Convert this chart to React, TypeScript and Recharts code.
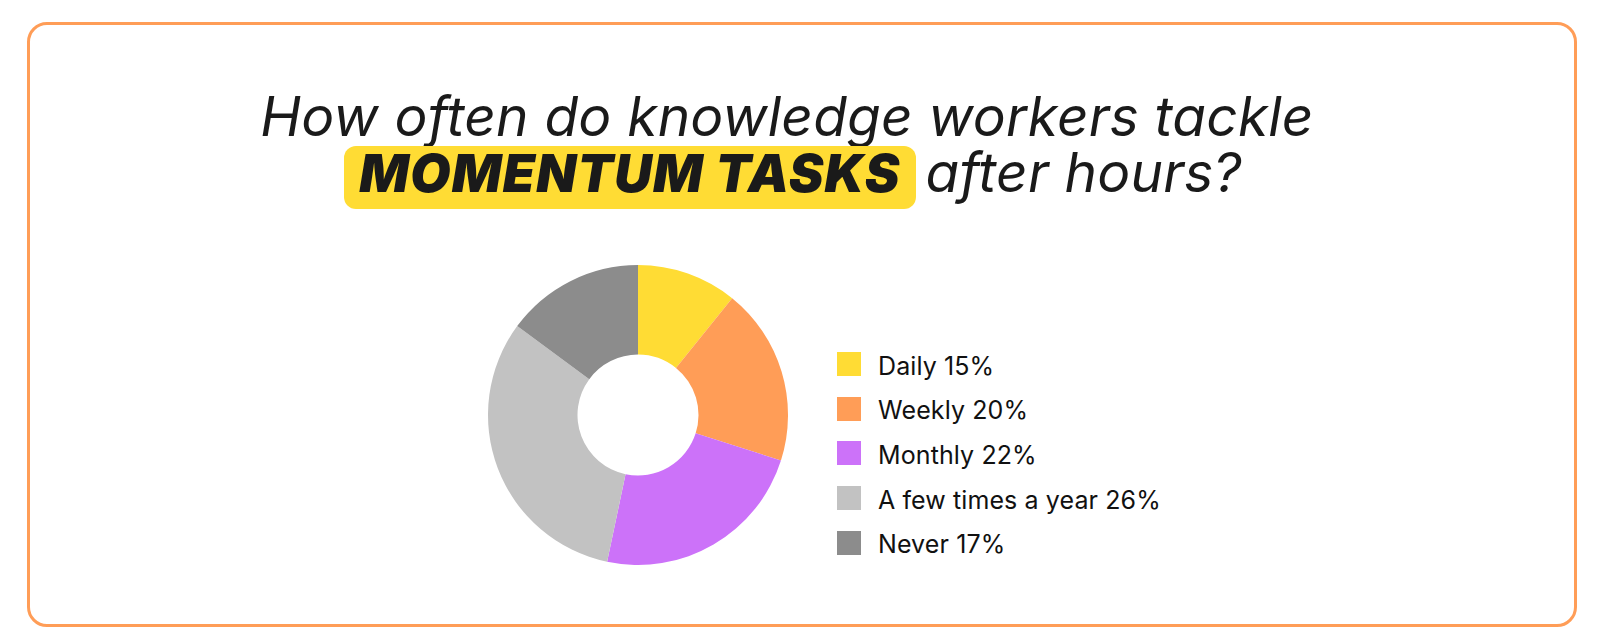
import React from "react";
import { PieChart, Pie, Cell, Legend } from "recharts";

// slice sizes as drawn (angles)
const categories = ["Daily", "Weekly", "Monthly", "A few times a year", "Never"];
const sliceValues = [10.8, 19.1, 23.4, 31.8, 14.9];
// percentages printed in the legend
const legendPercents = [15, 20, 22, 26, 17];
const colors = ["#FFDC34", "#FF9D57", "#CC72F9", "#C2C2C2", "#8C8C8C"];

const data = categories.map((name, i) => ({
  name,
  value: sliceValues[i],
  pct: legendPercents[i],
}));

const FONT = "Inter, 'Noto Sans', sans-serif";

const CustomLegend = () => (
  <div style={{ fontFamily: FONT, color: "#111" }}>
    {data.map((d, i) => (
      <div
        key={`legend-${i}`}
        style={{ display: "flex", alignItems: "center", height: 44.6 }}
      >
        <div
          style={{
            width: 24,
            height: 24,
            backgroundColor: colors[i],
            marginRight: 17,
          }}
        />
        <span style={{ fontSize: 25, letterSpacing: 0.1, marginTop: 3 }}>
          {d.name} {d.pct}%
        </span>
      </div>
    ))}
  </div>
);

export default function App() {
  return (
    <div
      style={{
        position: "relative",
        width: 1600,
        height: 644,
        background: "#fff",
        margin: -8,
        overflow: "hidden",
      }}
    >
      {/* card border */}
      <div
        style={{
          position: "absolute",
          left: 27,
          top: 22,
          width: 1550,
          height: 605,
          border: "3px solid #FF9D57",
          borderRadius: 20,
          boxSizing: "border-box",
        }}
      />

      {/* title line 1 */}
      <div
        style={{
          position: "absolute",
          left: 0,
          top: 88,
          width: 1574,
          textAlign: "center",
          fontFamily: FONT,
          fontStyle: "italic",
          fontSize: 55,
          color: "#1a1a1a",
          lineHeight: "56px",
          letterSpacing: 0.2,
          whiteSpace: "nowrap",
        }}
      >
        How often do knowledge workers tackle
      </div>

      {/* title line 2 */}
      <div
        style={{
          position: "absolute",
          left: 0,
          top: 145,
          width: 1586,
          display: "flex",
          justifyContent: "center",
          alignItems: "baseline",
          fontFamily: FONT,
          fontStyle: "italic",
          color: "#1a1a1a",
          whiteSpace: "nowrap",
        }}
      >
        <span
          style={{
            display: "inline-block",
            background: "#FFDC34",
            borderRadius: 12,
            height: 63,
            lineHeight: "55px",
            padding: "0 15px",
            boxSizing: "border-box",
            fontSize: 52,
            fontWeight: 900,
            letterSpacing: 1.2,
          }}
        >
          MOMENTUM TASKS
        </span>
        <span
          style={{
            marginLeft: 10,
            fontSize: 55,
            lineHeight: "55px",
            letterSpacing: 0.2,
          }}
        >
          after hours?
        </span>
      </div>

      <div style={{ position: "absolute", left: 0, top: 0 }}>
        <PieChart width={1600} height={644}>
          <Pie
            data={data}
            dataKey="value"
            nameKey="name"
            cx={633}
            cy={410}
            outerRadius={150}
            innerRadius={60.5}
            startAngle={90}
            endAngle={-270}
            stroke="none"
            isAnimationActive={false}
          >
            {data.map((d, i) => (
              <Cell key={`cell-${i}`} fill={colors[i]} />
            ))}
          </Pie>
          <Legend
            content={<CustomLegend />}
            layout="vertical"
            wrapperStyle={{ left: 837, top: 342, width: 400, bottom: "auto" }}
          />
        </PieChart>
      </div>
    </div>
  );
}
